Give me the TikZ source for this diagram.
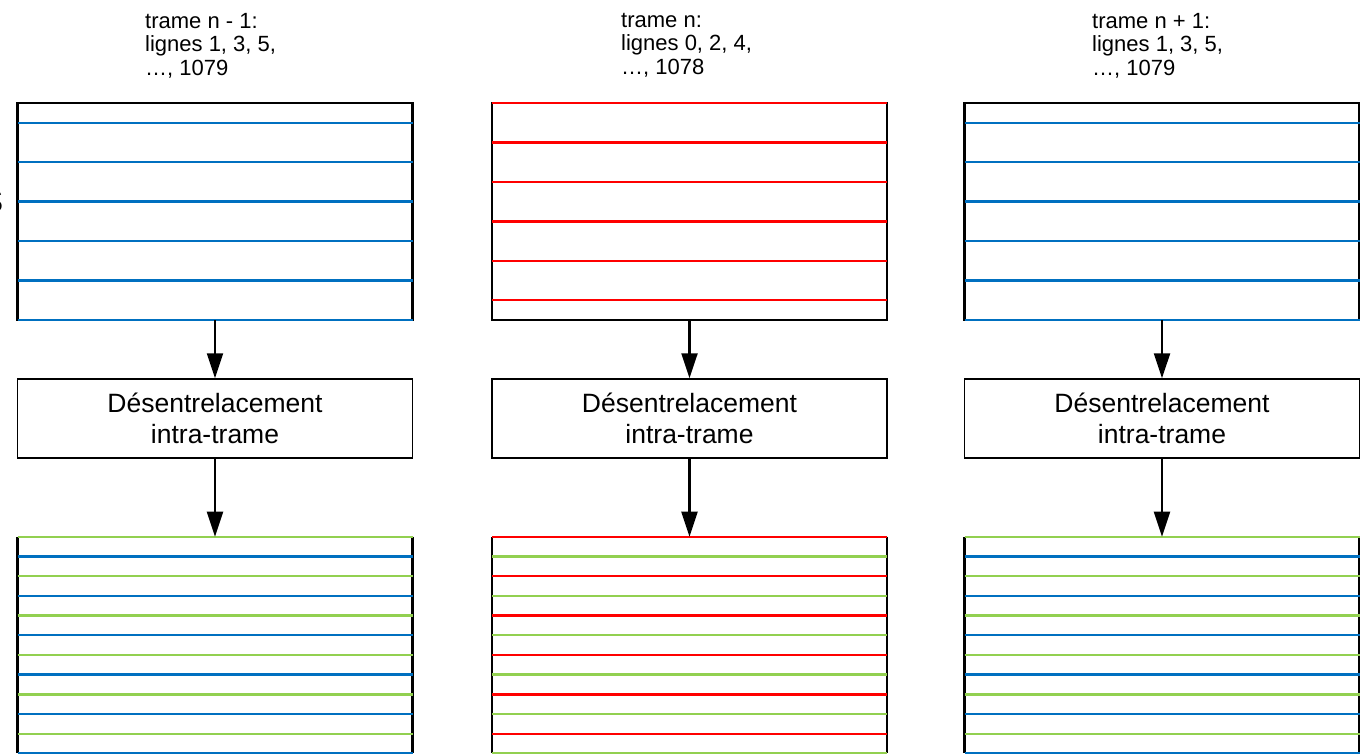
\documentclass[tikz,border=0pt]{standalone}
\usepackage{fontspec}
\setmainfont{Liberation Sans}
\usetikzlibrary{arrows.meta,calc}
\definecolor{fieldblue}{RGB}{0,112,192}
\definecolor{fieldred}{RGB}{255,0,0}
\definecolor{fieldgreen}{RGB}{146,208,80}

\begin{document}
\begin{tikzpicture}[x=1pt,y=-1pt,
  fieldframe/.style={draw=black, line width=2.5pt, minimum width=395pt, minimum height=217pt, inner sep=0pt, outer sep=0pt},
  fullframe/.style={minimum width=395pt, minimum height=216.7pt, inner sep=0pt, outer sep=0pt},
  scanline/.style={line width=2.4pt},
  side/.style={draw=black, line width=2.5pt},
  procbox/.style={draw=black, line width=1.4pt, minimum width=395pt, minimum height=79pt, inner sep=0pt, align=center, font=\fontsize{26.5}{31}\selectfont},
  caption/.style={anchor=north west, inner sep=0pt, align=left, font=\fontsize{22}{23.5}\selectfont},
  flow/.style={line width=2.2pt, -{Triangle[length=25pt,width=16pt]}}]

\useasboundingbox (0,0) rectangle (1360,754);

% fragment of a label cut off at the left border
\node[anchor=east, inner sep=0pt, font=\fontsize{32}{32}\selectfont] (cut) at (3.5,201) {S};

% captions
\node[caption] (c1) at (145,13) {trame n - 1:\\lignes 1, 3, 5,\\…, 1079};
\node[caption] (c2) at (621,13) {trame n:\\lignes 0, 2, 4,\\…, 1078};
\node[caption] (c3) at (1092,13) {trame n + 1:\\lignes 1, 3, 5,\\…, 1079};

% input fields
\node[fieldframe] (t1) at (215,211.5) {};
\node[fieldframe] (t2) at (689.5,211.5) {};
\node[fieldframe] (t3) at (1162,211.5) {};
\foreach \k in {0,...,5} {
  \draw[scanline, fieldblue] ($(t1.north west)+(0,{19.72*(2*\k+1)})$) -- ($(t1.north east)+(0,{19.72*(2*\k+1)})$);
  \draw[scanline, fieldred]  ($(t2.north west)+(0,{19.72*(2*\k)})$)   -- ($(t2.north east)+(0,{19.72*(2*\k)})$);
  \draw[scanline, fieldblue] ($(t3.north west)+(0,{19.72*(2*\k+1)})$) -- ($(t3.north east)+(0,{19.72*(2*\k+1)})$);
}

% deinterlacing stages
\node[procbox] (p1) at (215,418.5) {Désentrelacement\\intra-trame};
\node[procbox] (p2) at (689.5,418.5) {Désentrelacement\\intra-trame};
\node[procbox] (p3) at (1162,418.5) {Désentrelacement\\intra-trame};

% output frames
\node[fullframe] (b1) at (215,645.05) {};
\node[fullframe] (b2) at (689.5,645.05) {};
\node[fullframe] (b3) at (1162,645.05) {};
\foreach \b in {b1,b2,b3} {
  \draw[side] (\b.north west) -- (\b.south west);
  \draw[side] (\b.north east) -- (\b.south east);
}
\foreach \j in {0,...,11} {
  \pgfmathtruncatemacro{\odd}{mod(\j,2)}
  \ifnum\odd=0
    \draw[scanline, fieldgreen] ($(b1.north west)+(0,{19.7*\j})$) -- ($(b1.north east)+(0,{19.7*\j})$);
    \draw[scanline, fieldred]   ($(b2.north west)+(0,{19.7*\j})$) -- ($(b2.north east)+(0,{19.7*\j})$);
    \draw[scanline, fieldgreen] ($(b3.north west)+(0,{19.7*\j})$) -- ($(b3.north east)+(0,{19.7*\j})$);
  \else
    \draw[scanline, fieldblue]  ($(b1.north west)+(0,{19.7*\j})$) -- ($(b1.north east)+(0,{19.7*\j})$);
    \draw[scanline, fieldgreen] ($(b2.north west)+(0,{19.7*\j})$) -- ($(b2.north east)+(0,{19.7*\j})$);
    \draw[scanline, fieldblue]  ($(b3.north west)+(0,{19.7*\j})$) -- ($(b3.north east)+(0,{19.7*\j})$);
  \fi
}

% connectors
\foreach \i in {1,2,3} {
  \draw[flow] (t\i) -- (p\i);
  \draw[flow] (p\i) -- (b\i);
}
\end{tikzpicture}
\end{document}
